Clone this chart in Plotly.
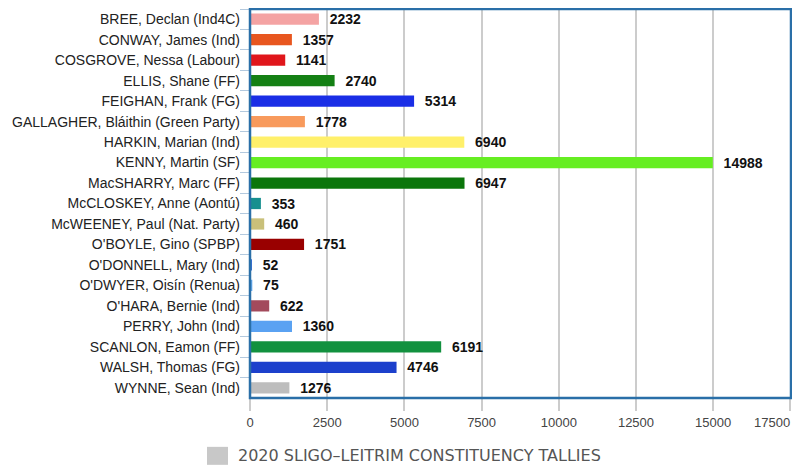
import plotly.graph_objects as go

candidates = [
    "BREE, Declan (Ind4C)", "CONWAY, James (Ind)", "COSGROVE, Nessa (Labour)",
    "ELLIS, Shane (FF)", "FEIGHAN, Frank (FG)", "GALLAGHER, Bláithin (Green Party)",
    "HARKIN, Marian (Ind)", "KENNY, Martin (SF)", "MacSHARRY, Marc (FF)",
    "McCLOSKEY, Anne (Aontú)", "McWEENEY, Paul (Nat. Party)", "O'BOYLE, Gino (SPBP)",
    "O'DONNELL, Mary (Ind)", "O'DWYER, Oisín (Renua)", "O'HARA, Bernie (Ind)",
    "PERRY, John (Ind)", "SCANLON, Eamon (FF)", "WALSH, Thomas (FG)", "WYNNE, Sean (Ind)",
]
votes = [2232, 1357, 1141, 2740, 5314, 1778, 6940, 14988, 6947,
         353, 460, 1751, 52, 75, 622, 1360, 6191, 4746, 1276]
bar_colors = ["#f4a3a3", "#e8561f", "#e0161b", "#148014", "#1a2ee6", "#f89a5c",
              "#fff06a", "#66ee22", "#0b760b", "#178f8f", "#c9c07a", "#990000",
              "#3a6fd8", "#66aaee", "#a34a5c", "#5aa2f2", "#12913f", "#1c40cc", "#bdbdbd"]
x_ticks = [0, 2500, 5000, 7500, 10000, 12500, 15000, 17500]
legend_label = "2020 SLIGO–LEITRIM CONSTITUENCY TALLIES"

# last tick label is drawn right-aligned to its tick so it stays inside the page
x_ticktext = [str(t) for t in x_ticks[:-1]] + [""]

fig = go.Figure(go.Bar(
    y=candidates, x=votes, orientation="h",
    marker=dict(color=bar_colors, line=dict(width=0)),
    text=[f"\u00a0\u00a0{v}" for v in votes], textposition="outside",
    constraintext="none",
    textfont=dict(family="Liberation Sans, Arial", size=14, color="#111111", weight="bold"),
    cliponaxis=False, showlegend=False,
))

fig.update_layout(
    width=792, height=463,
    margin=dict(l=242, r=9, t=1, b=73, autoexpand=False),
    paper_bgcolor="white", plot_bgcolor="white",
    bargap=0.45,
    font=dict(family="Liberation Sans, Arial", size=14, color="#222222"),
    xaxis=dict(range=[0, 17520], tickvals=x_ticks, ticktext=x_ticktext, automargin=False,
               showgrid=True, gridcolor="#cccccc", gridwidth=1.5,
               ticks="outside", ticklen=12, tickcolor="#cccccc", tickwidth=1.5,
               tickfont=dict(size=13, color="#444444"), zeroline=False, showline=False),
    yaxis=dict(autorange="reversed", tickson="boundaries", ticks="outside", ticklen=9,
               tickcolor="#b3c9de", showgrid=False, ticklabelstandoff=9, automargin=False,
               tickfont=dict(size=14, color="#222222"), showline=False),
    shapes=[
        dict(type="rect", xref="paper", yref="paper", x0=0, x1=1, y0=0, y1=1,
             line=dict(color="#2a6fa8", width=2.5), fillcolor="rgba(0,0,0,0)"),
        dict(type="rect", xref="paper", yref="paper", x0=-0.0795, x1=-0.0407,
             y0=-0.1256, y1=-0.1718, line=dict(width=0), fillcolor="#c8c8c8"),
    ],
    annotations=[
        dict(text=legend_label, xref="paper", yref="paper", x=-0.026, y=-0.1487,
             xanchor="left", yanchor="middle", showarrow=False,
             font=dict(family="DejaVu Sans", size=16, color="#555555")),
        dict(text=str(x_ticks[-1]), xref="x", yref="paper", x=x_ticks[-1], y=0,
             xanchor="right", yanchor="middle", xshift=2, yshift=-24, showarrow=False,
             font=dict(family="Liberation Sans, Arial", size=13, color="#444444")),
    ],
)

fig.write_html("out.html")
